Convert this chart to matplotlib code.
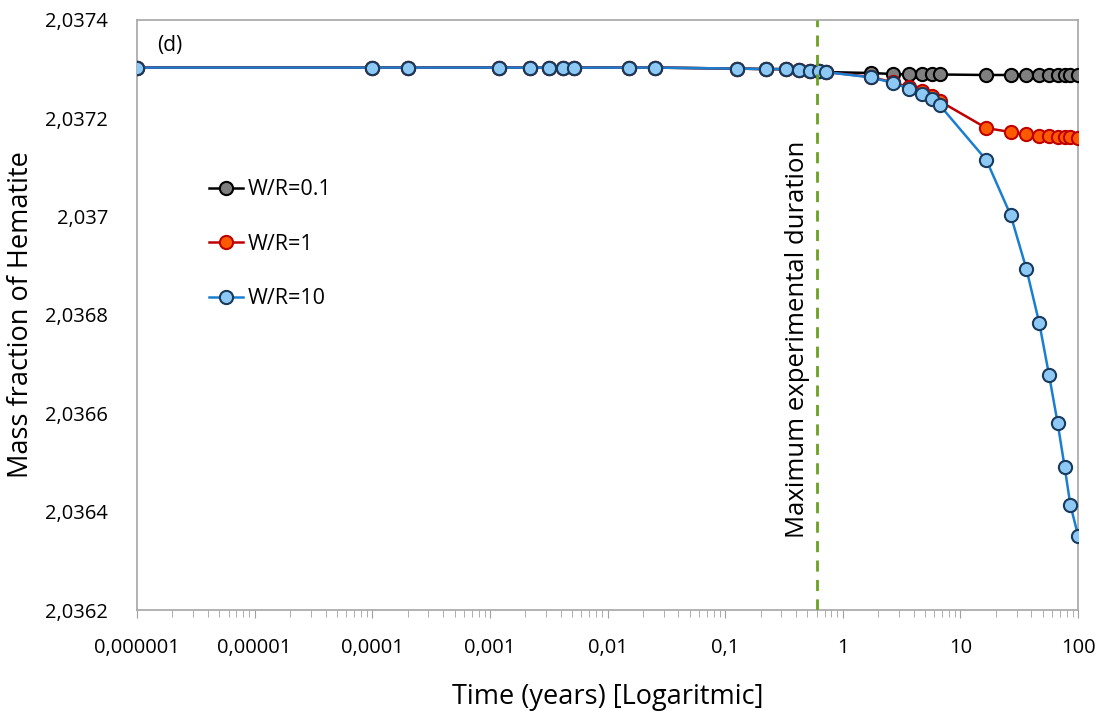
import numpy as np
import matplotlib.pyplot as plt
import matplotlib.ticker as mticker

plt.rcParams['font.family'] = ['Open Sans', 'DejaVu Sans']

# time in years (shared by all three series)
time = [1e-6, 1e-4, 2e-4, 1.2e-3, 2.2e-3, 3.2e-3, 4.2e-3, 5.2e-3, 0.0153, 0.0255,
        0.126, 0.223, 0.326, 0.42, 0.521, 0.621, 0.718,
        1.73, 2.67, 3.67, 4.73, 5.72, 6.64,
        16.6, 26.7, 36.3, 46.8, 56.6, 67, 76.8, 85.9, 100]

wr01 = [2.037303, 2.037303, 2.037303, 2.037303, 2.037303, 2.037303, 2.037303, 2.037303, 2.037303, 2.037303,
        2.037301, 2.037300, 2.037300, 2.037298, 2.037296, 2.037296, 2.037294,
        2.037292, 2.037290, 2.037289, 2.037289, 2.037289, 2.037289,
        2.037288, 2.037288, 2.037288, 2.037288, 2.037288, 2.037288, 2.037288, 2.037288, 2.037288]

wr1 = [2.037303, 2.037303, 2.037303, 2.037303, 2.037303, 2.037303, 2.037303, 2.037303, 2.037303, 2.037303,
       2.037301, 2.037300, 2.037300, 2.037298, 2.037296, 2.037296, 2.037294,
       2.037284, 2.037273, 2.037263, 2.037256, 2.037245, 2.037235,
       2.037180, 2.037172, 2.037167, 2.037164, 2.037163, 2.037162, 2.037161, 2.037161, 2.037160]

wr10 = [2.037303, 2.037303, 2.037303, 2.037303, 2.037303, 2.037303, 2.037303, 2.037303, 2.037303, 2.037303,
        2.037301, 2.037300, 2.037300, 2.037298, 2.037296, 2.037296, 2.037294,
        2.037283, 2.037272, 2.037260, 2.037250, 2.037239, 2.037227,
        2.037115, 2.037003, 2.036894, 2.036783, 2.036678, 2.036580, 2.036491, 2.036414, 2.036351]

max_exp = 0.6

xticks = [1e-6, 1e-5, 1e-4, 1e-3, 1e-2, 1e-1, 1, 10, 100]
xlabels = ['0,000001', '0,00001', '0,0001', '0,001', '0,01', '0,1', '1', '10', '100']
yticks = [2.0362, 2.0364, 2.0366, 2.0368, 2.037, 2.0372, 2.0374]
ylabels = ['2,0362', '2,0364', '2,0366', '2,0368', '2,037', '2,0372', '2,0374']

fig = plt.figure(figsize=(10.99, 7.11), dpi=100)
ax = fig.add_axes([0.1247, 0.142, 0.8563, 0.830])

ax.plot(time, wr01, color='black', lw=1.8, marker='o', ms=9.5,
        mfc='#7f7f7f', mec='black', mew=1.5, label='W/R=0.1', zorder=3)
ax.plot(time, wr1, color='#c00000', lw=1.8, marker='o', ms=9.5,
        mfc='#ff5a00', mec='#c00000', mew=1.5, label='W/R=1', zorder=4)
ax.plot(time, wr10, color='#1a7fd0', lw=1.8, marker='o', ms=9.5,
        mfc='#8ec9f5', mec='#183a5c', mew=1.5, label='W/R=10', zorder=5)

ax.axvline(max_exp, color='#6aa121', lw=2, ls=(0, (4, 3)), zorder=6)
ax.text(0.53, 2.03675, 'Maximum experimental duration', rotation=90,
        ha='right', va='center', fontsize=18.5)
ax.text(0.021, 0.975, '(d)', transform=ax.transAxes, fontsize=15, va='top')

ax.set_xscale('log')
ax.set_xlim(1e-6, 100)
ax.set_ylim(2.0362, 2.0374)
ax.set_xticks(xticks)
ax.set_xticklabels(xlabels)
ax.xaxis.set_minor_locator(mticker.LogLocator(base=10, subs=np.arange(2, 10)))
ax.xaxis.set_minor_formatter(mticker.NullFormatter())
ax.set_yticks(yticks)
ax.set_yticklabels(ylabels)

ax.tick_params(axis='x', which='major', direction='out', length=6, color='#a0a0a0',
               labelsize=14.5, pad=14)
ax.tick_params(axis='x', which='minor', direction='out', length=5, color='#a0a0a0')
ax.tick_params(axis='y', length=0, labelsize=14.5, pad=21)
for s in ax.spines.values():
    s.set_color('#a6a6a6')
    s.set_linewidth(1.2)

ax.set_xlabel('Time (years) [Logaritmic]', fontsize=19.5, labelpad=18)
ax.set_ylabel('Mass fraction of Hematite', fontsize=19.5, labelpad=7)

ax.legend(loc='upper left', bbox_to_anchor=(0.065, 0.748), frameon=False,
          fontsize=15.5, labelspacing=1.55, handlelength=1.6, handletextpad=0.2,
          borderpad=0)

fig.savefig('out.png', dpi=100)
